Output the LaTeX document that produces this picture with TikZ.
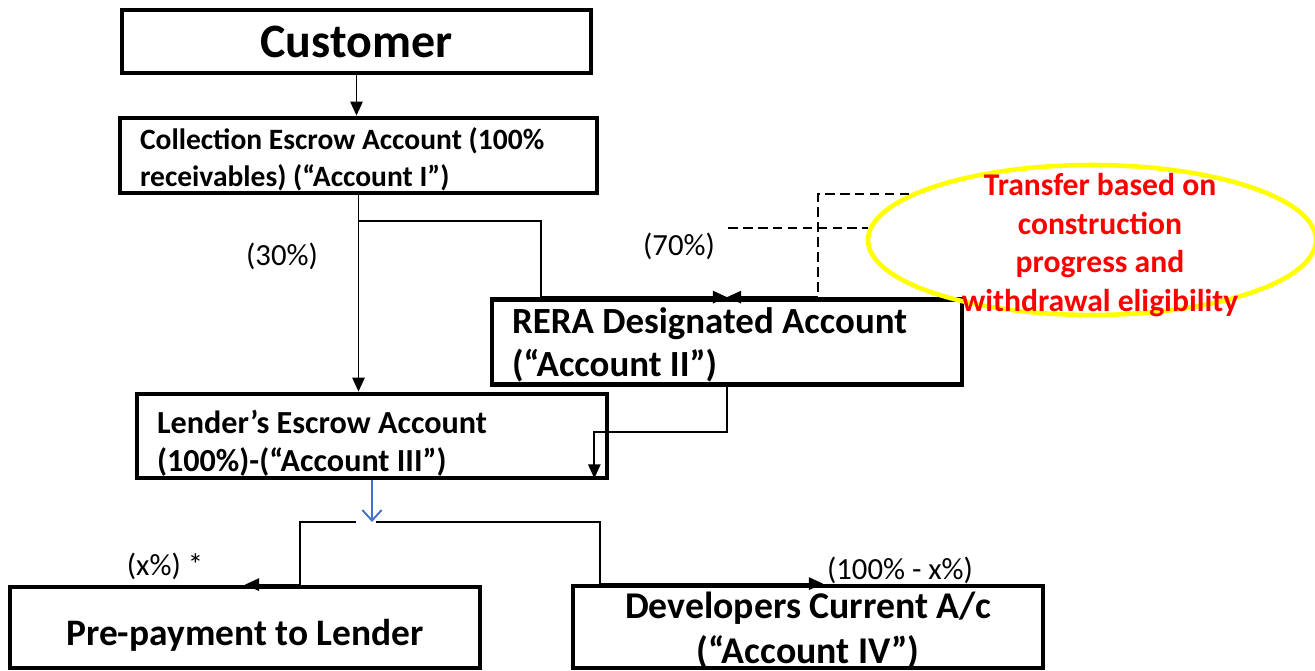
\documentclass[tikz,border=0pt]{standalone}
\usepackage{fontspec}
\setmainfont{Carlito}
\usetikzlibrary{arrows.meta, positioning, calc, shapes.geometric}
\definecolor{flowblue}{HTML}{4472C4}
\definecolor{notered}{HTML}{FF0000}
\definecolor{noteyellow}{HTML}{FFFF00}

\begin{document}
\begin{tikzpicture}[x=0.02cm, y=-0.02cm,
    acct/.style={draw, line width=2.7pt, inner xsep=0.4cm, inner ysep=0pt, align=flush left},
    flow/.style={line width=1.1pt},
    arrowed/.style={-{Triangle[length=8pt, width=7pt]}},
    pct/.style={font=\fontsize{17.5}{21}\selectfont}]
  \useasboundingbox (0,0) rectangle (1315,671);

  % accounts (text height/depth set where the baselines sit)
  \node[acct, minimum width=9.38cm, minimum height=1.26cm, align=flush center,
        text height=0.66cm, text depth=0pt,
        font=\fontsize{27.3}{32}\selectfont\bfseries] (cust) at (356.5,41.5) {Customer};
  \node[acct, text width=8.74cm, minimum height=1.5cm,
        text height=0pt, text depth=0.22cm,
        font=\fontsize{16.8}{21}\selectfont\bfseries] (coll) at (358.5,155.5)
        {Collection Escrow Account (100\%\\receivables) (“Account I”)};
  \node[acct, text width=8.6cm, minimum height=1.7cm,
        text height=0pt, text depth=0.34cm,
        font=\fontsize{21}{24.5}\selectfont\bfseries] (rera) at (727,342)
        {RERA Designated Account\\(“Account II”)};
  \node[acct, text width=8.6cm, minimum height=1.68cm,
        text height=0pt, text depth=0.08cm,
        font=\fontsize{18.3}{21.5}\selectfont\bfseries] (lender) at (372,436)
        {Lender’s Escrow Account\\(100\%)-(“Account III”)};
  \node[acct, minimum width=9.4cm, minimum height=1.62cm, align=flush center,
        text height=0.74cm, text depth=0pt,
        font=\fontsize{21.3}{25}\selectfont\bfseries] (prepay) at (245,627.5)
        {Pre-payment to Lender};
  \node[acct, minimum width=9.4cm, minimum height=1.64cm, align=flush center,
        text height=1.48cm, text depth=0pt,
        font=\fontsize{21.5}{26}\selectfont\bfseries] (dev) at (808,627)
        {Developers Current A/c\\(“Account IV”)};

  % flows out of the collection account
  \draw[flow, arrowed] (cust.south) -- (cust.south |- coll.north);
  \draw[flow, arrowed] (coll.south) -- (coll.south |- lender.north);
  \draw[flow, arrowed] (coll.south |- 0,221) -| ($(rera.north west)+(51,0)$) -- (rera.north);
  \node[pct] (p30) at (282,256) {(30\%)};
  \node[pct] (p70) at (679,246) {(70\%)};

  % RERA account into the lender's account
  \draw[flow, arrowed] (rera.south) |- ($(lender.south east)+(-15,-48)$)
    -- ($(lender.south east)+(-15,-2)$);

  % split of the lender's account
  \coordinate (split) at (lender.south |- 0,522);
  \draw[line width=1.1pt, flowblue, -{Straight Barb[length=6pt, width=11pt]}]
    (lender.south) -- (split);
  \draw[flow, arrowed] ($(split)+(-16,0)$) -| ($(prepay.north)+(55,0)$) -- (prepay.north);
  \draw[flow, arrowed] ($(split)+(4,0)$) -| ($(dev.north west)+(29,0)$)
    -- ($(dev.north)+(15,0)$);
  \node[pct] (px) at (165,566) {(x\%) *};
  \node[pct] (prest) at (900,570) {(100\% - x\%)};

  % condition note
  \node[ellipse, draw=noteyellow, line width=2.6pt, minimum width=8.96cm,
        minimum height=3cm, inner sep=0pt] (ell) at (1092,240) {};
  \coordinate (dashfoot) at ($(rera.north west)+(328,0)$);
  \coordinate (dashend) at (728,228);
  \draw[flow, dash pattern=on 5.5pt off 3pt] (ell.166) -| (dashfoot);
  \draw[flow, arrowed] (dashfoot) -- (rera.north);
  \draw[flow, dash pattern=on 5.5pt off 3pt] (dashend) -- (dashend -| ell.177);
  \node[align=center, text=notered, font=\fontsize{18}{22}\selectfont\bfseries]
    (note) at (1100,245) {Transfer based on\\construction\\progress and\\withdrawal eligibility};
\end{tikzpicture}
\end{document}
